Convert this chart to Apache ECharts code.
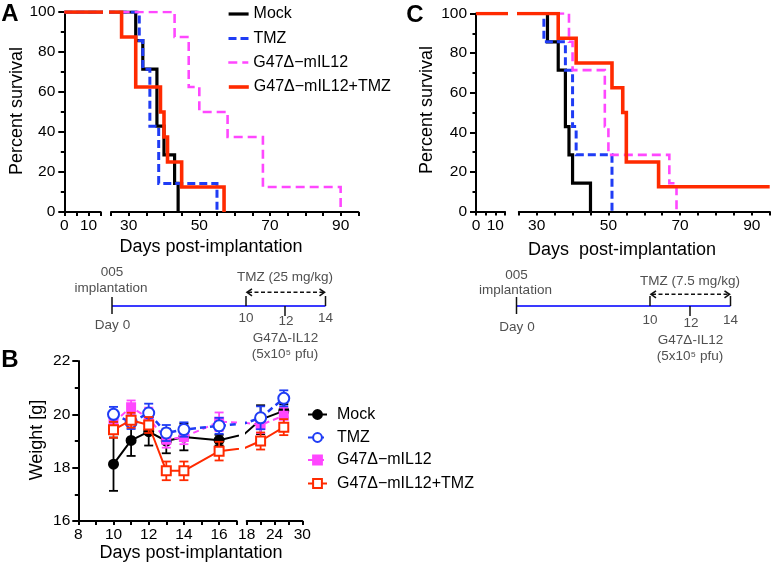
<!DOCTYPE html>
<html><head><meta charset="utf-8">
<script src="https://cdn.jsdelivr.net/npm/echarts@6/dist/echarts.min.js"></script>
<style>html,body{margin:0;padding:0;background:#fff}#c{width:771px;height:564px}</style>
</head><body><div id="c"></div>
<script>
// ---------------- DATA ----------------
const groupNames = ['Mock', 'TMZ', 'G47Δ−mIL12', 'G47Δ−mIL12+TMZ'];

// Panel A: Kaplan-Meier (days, percent survival after event)
const mockA_t  = [0, 32, 34, 38, 40, 43, 44];
const mockA_s  = [100, 85.7, 71.4, 42.9, 28.6, 14.3, 0];
const tmzA_t   = [0, 33, 34, 36, 38.5, 55];
const tmzA_s   = [100, 85.7, 71.4, 42.9, 14.3, 0];
const il12A_t  = [0, 43, 47, 50, 58, 68, 90];
const il12A_s  = [100, 87.5, 62.5, 50, 37.5, 12.5, 0];
const comboA_t = [0, 28, 32, 39, 40, 41, 45, 57];
const comboA_s = [100, 87.5, 62.5, 50, 37.5, 25, 12.5, 0];

// Panel C
const mockC_t  = [0, 33, 36, 38, 39, 40, 45];
const mockC_s  = [100, 85.7, 71.4, 42.9, 28.6, 14.3, 0];
const tmzC_t   = [0, 32, 38, 40, 41, 51];
const tmzC_s   = [100, 85.7, 71.4, 42.9, 28.6, 0];
const il12C_t  = [0, 39, 40, 49, 50, 67, 69];
const il12C_s  = [100, 85.7, 71.4, 42.9, 28.6, 14.3, 0];
const comboC_t = [0, 36, 41, 51, 54, 55, 64, 95];
const comboC_s = [100, 87.5, 75, 62.5, 50, 25, 12.5, 12.5];

// Panel B: body weight (mean, SEM)
const weightDays = [10, 11, 12, 13, 14, 16, 21, 26];
const mockW  = [18.13, 19.02, 19.35, 19.0, 19.15, 19.03, 19.8, 20.13];
const mockE  = [1.0, 0.58, 0.52, 0.46, 0.5, 0.2, 0.54, 0.25];
const tmzW   = [20.0, 19.7, 20.05, 19.3, 19.43, 19.57, 19.87, 20.6];
const tmzE   = [0.28, 0.25, 0.35, 0.3, 0.27, 0.3, 0.43, 0.3];
const il12W  = [19.69, 20.27, 19.85, 19.05, 19.15, 19.72, 19.6, 19.95];
const il12E  = [0.3, 0.25, 0.4, 0.3, 0.27, 0.35, 0.3, 0.3];
const comboW = [19.42, 19.78, 19.6, 17.88, 17.88, 18.62, 19.0, 19.52];
const comboE = [0.3, 0.28, 0.3, 0.35, 0.35, 0.35, 0.32, 0.3];

// Tick labels
const survSeg1Labels = [0, 10];
const survSeg2Labels = [30, 50, 70, 90];
const weightSeg1Labels = [8, 10, 12, 14, 16];
const weightSeg2Labels = [18, 24, 30];
const timelineLabels = ['Day 0', '10', '12', '14'];

// ---------------- STYLE ----------------
const FONT = '"Liberation Sans", Arial, Helvetica, sans-serif';
const C_BLACK = '#000000', C_BLUE = '#1f3cf5', C_MAG = '#ff47ff', C_RED = '#ff2a00';
const GRAY = '#505050';

const chart = echarts.init(document.getElementById('c'), null, {renderer: 'canvas', width: 771, height: 564});

const grids = [
  {left: 64.3, top: 12,   width: 36.4,  height: 200},  // A seg1
  {left: 111,  top: 12,   width: 247.3, height: 200},  // A seg2
  {left: 476,  top: 13.5, width: 29,    height: 198},  // C seg1
  {left: 518.8,top: 13.5, width: 250.9, height: 198},  // C seg2
  {left: 78.3, top: 361,  width: 158.4, height: 160},  // B seg1
  {left: 246.7,top: 361,  width: 55.6,  height: 160}   // B seg2
].map(g => Object.assign({outerBoundsMode: 'none', containLabel: false, show: false}, g));

function xAx(gi, min, max, interval, labels, tickLen) {
  return {
    gridIndex: gi, type: 'value', min, max, interval,
    axisLine: {show: true, onZero: false, lineStyle: {color: '#000', width: 2}},
    axisTick: {show: true, length: tickLen, lineStyle: {color: '#000', width: 2}},
    axisLabel: {show: true, margin: 6, color: '#000', fontSize: 15.5, fontFamily: FONT,
      formatter: v => labels.indexOf(v) >= 0 ? String(v) : ''},
    splitLine: {show: false}, minorTick: {show: false}
  };
}
function yAx(gi, min, max, interval, show, margin) {
  return {
    gridIndex: gi, type: 'value', min, max, interval, show,
    axisLine: {show: true, onZero: false, lineStyle: {color: '#000', width: 2}},
    axisTick: {show: true, length: 6, lineStyle: {color: '#000', width: 2}},
    minorTick: {show: true, splitNumber: 2, length: 3.5, lineStyle: {color: '#000', width: 2}},
    axisLabel: {show: true, margin, color: '#000', fontSize: 15.5, fontFamily: FONT},
    splitLine: {show: false}, minorSplitLine: {show: false}
  };
}

const xAxis = [
  xAx(0, 0, 15, 5, survSeg1Labels, 4),
  xAx(1, 25, 95, 5, survSeg2Labels, 4),
  xAx(2, 0, 15, 5, survSeg1Labels, 4),
  xAx(3, 25, 95, 5, survSeg2Labels, 4),
  xAx(4, 8, 17, 1, weightSeg1Labels, 4),
  xAx(5, 18, 30, 3, weightSeg2Labels, 4)
];
const yAxis = [
  yAx(0, 0, 100, 20, true, 9),
  yAx(1, 0, 100, 20, false, 9),
  yAx(2, 0, 100, 20, true, 9),
  yAx(3, 0, 100, 20, false, 9),
  yAx(4, 16, 22, 2, true, 8),
  yAx(5, 16, 22, 2, false, 8)
];

// ---------------- SERIES ----------------
const series = [];
const survStyles = [
  {color: C_BLACK, width: 3.2, type: 'solid'},
  {color: C_BLUE,  width: 3,   type: [8, 4]},
  {color: C_MAG,   width: 2.6, type: [9, 5]},
  {color: C_RED,   width: 3.6, type: 'solid'}
];
const survPanels = [
  {key: 'A', grids: [0, 1], t: [mockA_t, tmzA_t, il12A_t, comboA_t], s: [mockA_s, tmzA_s, il12A_s, comboA_s]},
  {key: 'C', grids: [2, 3], t: [mockC_t, tmzC_t, il12C_t, comboC_t], s: [mockC_s, tmzC_s, il12C_s, comboC_s]}
];
survPanels.forEach(p => {
  p.grids.forEach((gi, k) => {
    groupNames.forEach((g, i) => {
      const st = survStyles[i];
      series.push({
        type: 'line',
        name: (k === 1 ? p.key : p.key + '1') + '|' + g,
        xAxisIndex: gi, yAxisIndex: gi,
        data: p.t[i].map((x, j) => [x, p.s[i][j]]),
        step: 'end', symbol: 'none', showSymbol: false, clip: true,
        lineStyle: {color: st.color, width: st.width, type: st.type, cap: 'butt', join: 'miter'},
        itemStyle: {color: st.color},
        z: 2 + i, silent: true, emphasis: {disabled: true}
      });
    });
  });
});

// Panel B
const wGroups = [
  {mean: mockW,  err: mockE,  color: C_BLACK, lw: 2,   type: 'solid', symbol: 'circle',      size: 9,  z: 2},
  {mean: il12W,  err: il12E,  color: C_MAG,   lw: 2,   type: [6, 4],  symbol: 'rect',        size: 8,  z: 4},
  {mean: tmzW,   err: tmzE,   color: C_BLUE,  lw: 2.5, type: [6, 4],  symbol: 'emptyCircle', size: 11, z: 6},
  {mean: comboW, err: comboE, color: C_RED,   lw: 2,   type: 'solid', symbol: 'emptyRect',   size: 9,  z: 8}
];
const wNames = [groupNames[0], groupNames[2], groupNames[1], groupNames[3]];
function errRender(params, api) {
  const x = api.value(0), lo = api.value(1), hi = api.value(2);
  const p1 = api.coord([x, hi]), p2 = api.coord([x, lo]);
  const w = 4.5;
  const style = {stroke: api.visual('color'), lineWidth: 1.8};
  return {type: 'group', children: [
    {type: 'line', shape: {x1: p1[0], y1: p1[1], x2: p2[0], y2: p2[1]}, style},
    {type: 'line', shape: {x1: p1[0] - w, y1: p1[1], x2: p1[0] + w, y2: p1[1]}, style},
    {type: 'line', shape: {x1: p2[0] - w, y1: p2[1], x2: p2[0] + w, y2: p2[1]}, style}
  ]};
}
const segRanges = [[4, 8, 17], [5, 18, 30]];
wGroups.forEach((g, i) => {
  segRanges.forEach(([gi, lo, hi], k) => {
    series.push({
      type: 'custom', name: 'Berr' + k + '|' + wNames[i],
      xAxisIndex: gi, yAxisIndex: gi,
      data: weightDays.map((d, j) => [d, g.mean[j] - g.err[j], g.mean[j] + g.err[j]])
                      .filter(r => r[0] >= lo && r[0] <= hi),
      encode: {x: 0, y: [1, 2]},
      renderItem: errRender, itemStyle: {color: g.color},
      z: g.z - 1, silent: true, clip: true
    });
    series.push({
      type: 'line', name: (k === 0 ? 'B' : 'B2') + '|' + wNames[i],
      xAxisIndex: gi, yAxisIndex: gi,
      data: weightDays.map((d, j) => [d, g.mean[j]]),
      symbol: g.symbol, symbolSize: g.size, showSymbol: true, showAllSymbol: true, clip: true,
      lineStyle: {color: g.color, width: g.lw, type: g.type},
      itemStyle: {color: g.color, borderColor: g.color, borderWidth: 2},
      z: g.z, silent: true, emphasis: {disabled: true}
    });
  });
});

// ---------------- LEGENDS ----------------
const legends = [];
const aRows = [14, 38.5, 62.5, 87];
groupNames.forEach((g, i) => {
  legends.push({
    data: ['A|' + g], left: 227, top: aRows[i] - 8, padding: 0,
    itemWidth: 20, itemHeight: 16, selectedMode: false,
    formatter: n => n.split('|')[1],
    textStyle: {fontSize: 16, color: '#000', fontFamily: FONT},
    itemStyle: {color: 'transparent', borderColor: 'transparent', borderWidth: 0},
    lineStyle: {width: 'inherit'}
  });
});
const bRows = [412, 435, 457.5, 481];
groupNames.forEach((g, i) => {
  legends.push({
    data: ['B|' + g], left: 307, top: bRows[i] - 5.5, padding: 0,
    itemWidth: 19, itemHeight: 11, selectedMode: false,
    formatter: n => n.split('|')[1],
    textStyle: {fontSize: 16, color: '#000', fontFamily: FONT, padding: [0, 0, 0, 5]}
  });
});

// ---------------- GRAPHIC (labels, schematic) ----------------
function txt(x, y, text, size, opts) {
  opts = opts || {};
  return {type: 'text', x, y, rotation: opts.rot || 0, silent: true,
    style: {text, fontSize: size, fontFamily: FONT, fontWeight: opts.bold ? 'bold' : 'normal',
      fill: opts.color || '#000', align: opts.align || 'center', verticalAlign: 'middle',
      textAlign: opts.align || 'center', textVerticalAlign: 'middle'}};
}
function seg(x1, y1, x2, y2, color, lw, dash) {
  return {type: 'line', silent: true, shape: {x1, y1, x2, y2},
    style: {stroke: color, lineWidth: lw, lineDash: dash || null}};
}
function poly(points, color, lw) {
  return {type: 'polyline', silent: true, shape: {points}, style: {stroke: color, lineWidth: lw, fill: null}};
}
function timeline(t) {
  const els = [];
  els.push(seg(t.x0, t.yl, t.x14, t.yl, '#3a3aff', 2));
  els.push(seg(t.x0, t.yl - 9, t.x0, t.yl + 8, '#111', 1.5));
  els.push(seg(t.x10, t.yl - 10, t.x10, t.yl, '#111', 1.5));
  els.push(seg(t.x12, t.yl, t.x12, t.yl + 10, '#111', 1.5));
  els.push(seg(t.x14, t.yl - 10, t.x14, t.yl, '#111', 1.5));
  els.push(seg(t.x10 + 2, t.ya, t.x14 - 2, t.ya, '#111', 1.6, [4, 2.5]));
  els.push(poly([[t.x10 + 6, t.ya - 3.5], [t.x10 + 1, t.ya], [t.x10 + 6, t.ya + 3.5]], '#111', 1.6));
  els.push(poly([[t.x14 - 6, t.ya - 3.5], [t.x14 - 1, t.ya], [t.x14 - 6, t.ya + 3.5]], '#111', 1.6));
  els.push(txt(t.x0, t.ytop1, '005', 13.5, {color: GRAY}));
  els.push(txt(t.x0 - 1, t.ytop2, 'implantation', 13.5, {color: GRAY}));
  els.push(txt(t.x12, t.ytmz, t.tmz, 13.5, {color: GRAY}));
  els.push(txt(t.x0 + 0.5, t.yday0, timelineLabels[0], 13.5, {color: GRAY}));
  els.push(txt(t.x10, t.ynum, timelineLabels[1], 13.5, {color: GRAY}));
  els.push(txt(t.x12 + 1, t.ynum + 3, timelineLabels[2], 13.5, {color: GRAY}));
  els.push(txt(t.x14, t.ynum, timelineLabels[3], 13.5, {color: GRAY}));
  els.push(txt(t.x12 + 0.5, t.yg1, 'G47Δ-IL12', 13.5, {color: GRAY}));
  els.push(txt(t.x12, t.yg2, '(5x10⁵ pfu)', 13.5, {color: GRAY}));
  return els;
}
const graphic = [].concat(
  [txt(10, 14, 'A', 24, {bold: true}), txt(415, 15, 'C', 24, {bold: true}), txt(10, 360, 'B', 24, {bold: true})],
  [txt(17.5, 111, 'Percent survival', 18, {rot: Math.PI / 2}),
   txt(427.5, 110, 'Percent survival', 18, {rot: Math.PI / 2}),
   txt(37.5, 440, 'Weight [g]', 18, {rot: Math.PI / 2})],
  [txt(211, 247, 'Days post-implantation', 18),
   txt(622, 250, 'Days  post-implantation', 18),
   txt(191, 553, 'Days post-implantation', 18)],
  timeline({x0: 112, x10: 246, x12: 285, x14: 325.5, yl: 306, ya: 292.3,
            ytop1: 272.5, ytop2: 288.5, ytmz: 277.7, tmz: 'TMZ (25 mg/kg)',
            yday0: 325.5, ynum: 318.5, yg1: 338, yg2: 354}),
  timeline({x0: 516.5, x10: 650, x12: 690, x14: 730.5, yl: 306, ya: 294.3,
            ytop1: 275, ytop2: 290.5, ytmz: 281, tmz: 'TMZ (7.5 mg/kg)',
            yday0: 327, ynum: 320, yg1: 340.5, yg2: 356})
);

chart.setOption({
  animation: false,
  backgroundColor: '#fff',
  textStyle: {fontFamily: FONT},
  grid: grids, xAxis, yAxis, series, legend: legends, graphic
});
</script></body></html>
